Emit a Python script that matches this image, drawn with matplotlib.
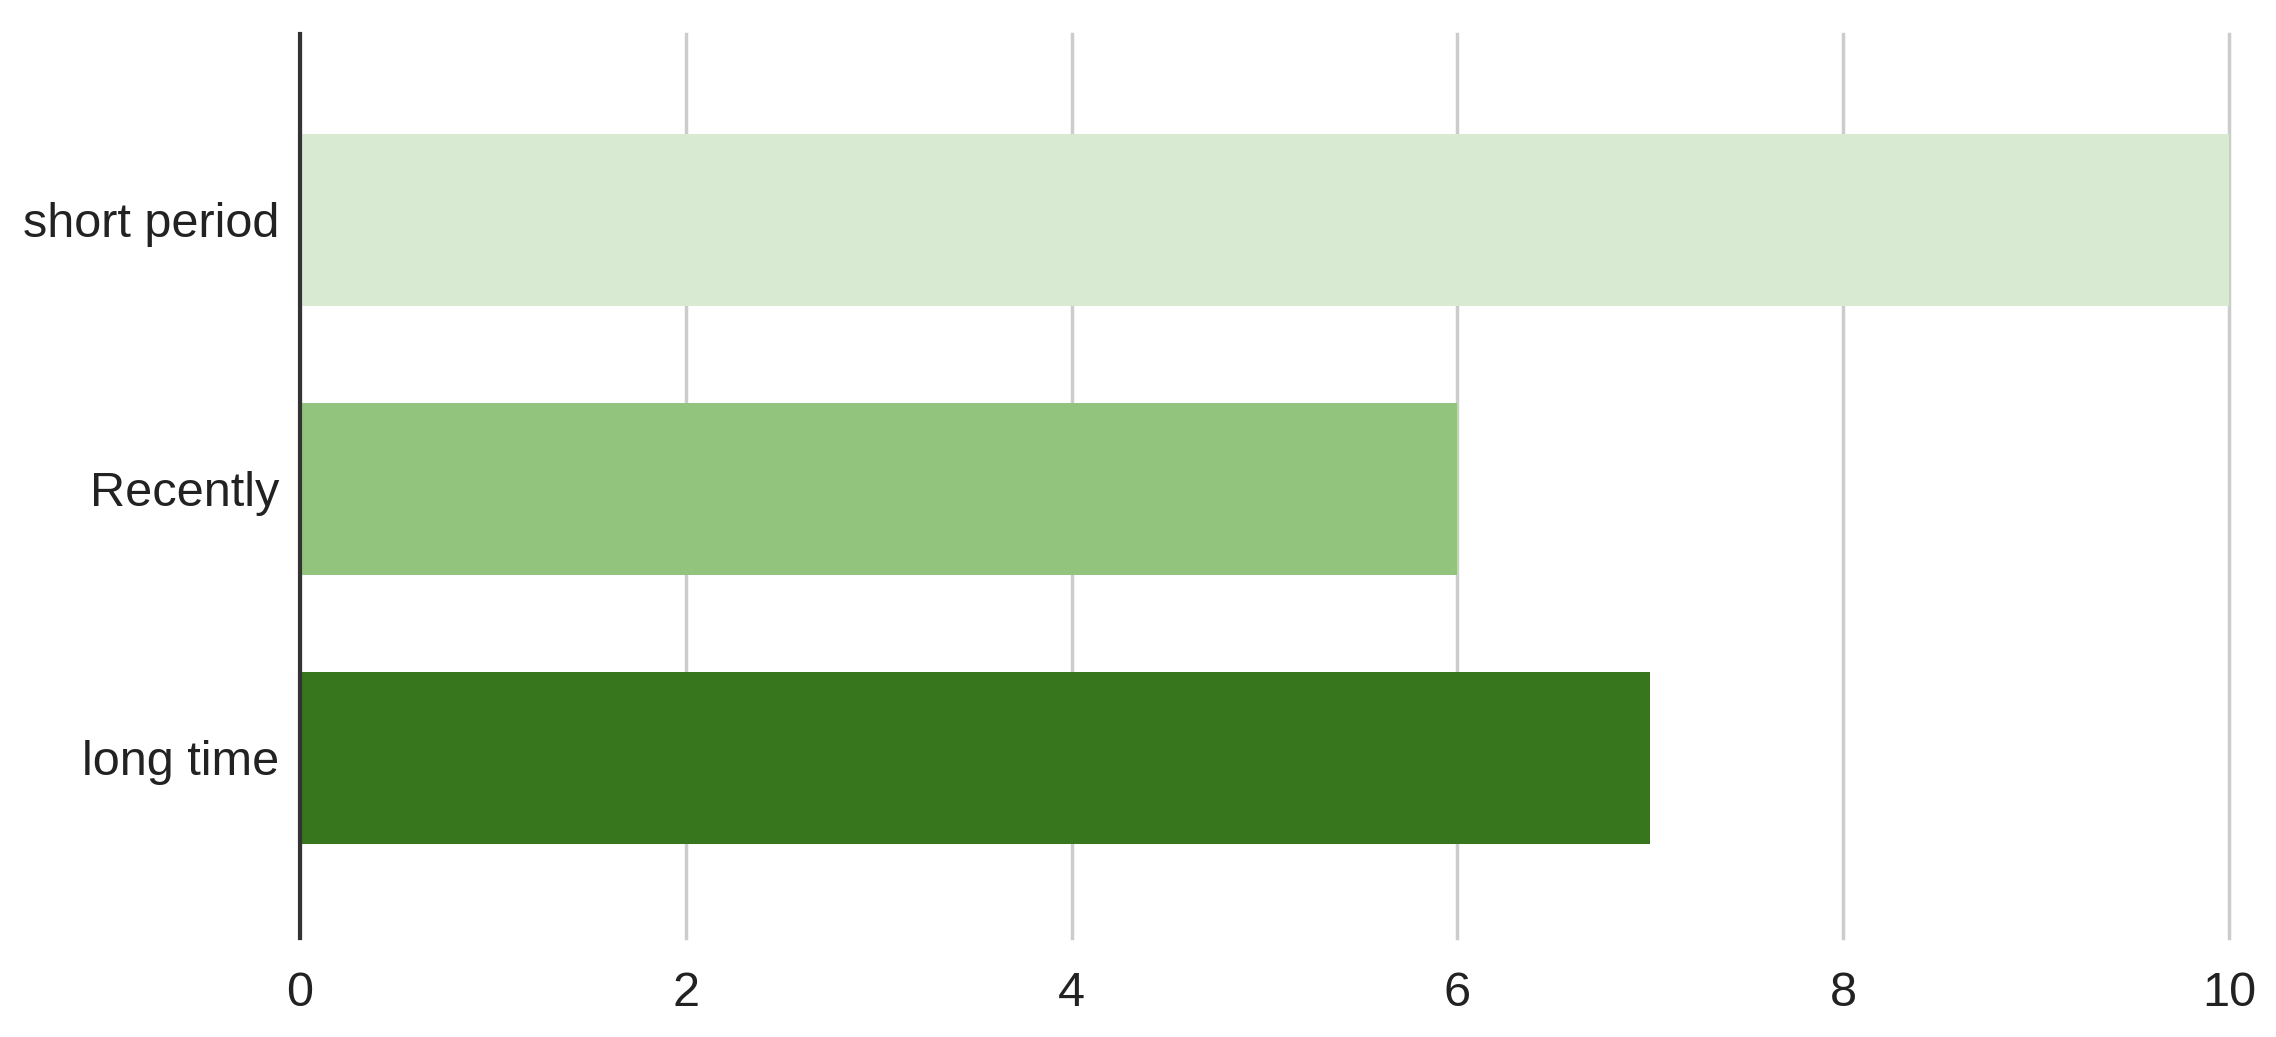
import matplotlib.pyplot as plt

categories = ['short period', 'Recently', 'long time']
values = [10, 6, 7]
bar_colors = ['#d9ead3', '#93c47d', '#38761d']
x_ticks = [0, 2, 4, 6, 8, 10]

plt.rcParams['font.family'] = ['Liberation Sans', 'DejaVu Sans']

fig = plt.figure(figsize=(22.76, 10.37), dpi=100)
ax = fig.add_axes([0.1318, 0.0955, 0.8476, 0.8717])

ypos = list(range(len(categories)))
ax.barh(ypos, values, height=0.64, color=bar_colors, zorder=3)

ax.set_xlim(0, 10)
ax.set_ylim(2.67, -0.69)
ax.set_xticks(x_ticks)
ax.set_xticklabels([str(t) for t in x_ticks])
ax.set_yticks(ypos)
ax.set_yticklabels(categories)

ax.grid(axis='x', color='#cccccc', linewidth=2.5, zorder=0)
ax.grid(axis='y', visible=False)
for line in ax.get_xgridlines():
    line.set_clip_on(False)
for side in ['top', 'right', 'bottom']:
    ax.spines[side].set_visible(False)
ax.spines['left'].set_color('#333333')
ax.spines['left'].set_linewidth(3)
ax.spines['left'].set_zorder(4)

ax.tick_params(axis='both', length=0, labelsize=35, labelcolor='#222222')
ax.tick_params(axis='y', pad=15)
ax.tick_params(axis='x', pad=24)

fig.savefig('out.png', dpi=100, facecolor='white')
